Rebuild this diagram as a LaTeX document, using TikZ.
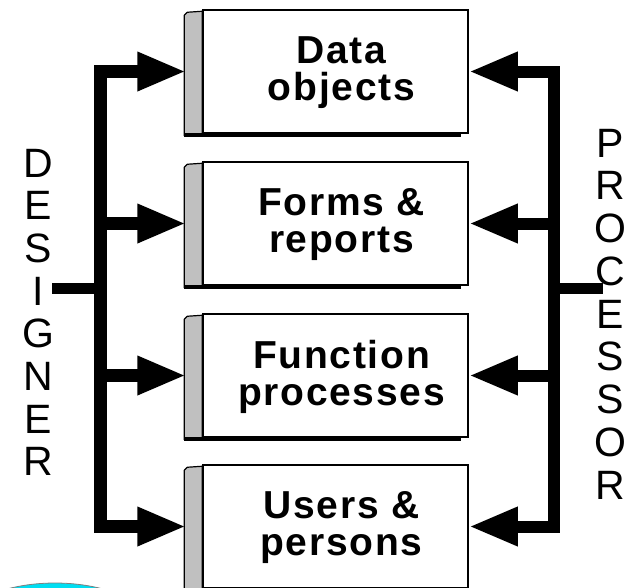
\documentclass[tikz,border=0pt]{standalone}
\usepackage{fontspec}
\setmainfont{Liberation Sans}
\newfontfamily\boxfont[LetterSpace=4.5]{Liberation Sans}
\usetikzlibrary{arrows.meta}
\definecolor{bubble}{RGB}{0,222,242}
\definecolor{stripgray}{RGB}{192,192,192}
\begin{document}
\begin{tikzpicture}[x=1pt,y=-1pt,
  box/.style={draw, line width=1.5pt, fill=white, minimum width=265pt,
    minimum height=123pt, inner sep=0pt},
  boxtext/.style={inner sep=0pt, align=center,
    font=\boxfont\fontsize{39}{37}\selectfont\bfseries},
  strip/.style={draw, line width=1.2pt, fill=stripgray, line join=round},
  shade/.style={line width=4pt},
  bus/.style={line width=13pt, line join=miter},
  head/.tip={Triangle[length=49pt,width=36pt]},
  letter/.style={anchor=base, inner sep=0pt, font=\fontsize{41}{41}\selectfont},
]
\useasboundingbox (0,0) rectangle (627,587);

% cyan bubble peeking in at the lower left
\filldraw[fill=bubble, draw=gray, line width=0.8pt] (55,643) ellipse [x radius=110pt, y radius=60pt];

% the four boxes with their grey side strip and bottom shadow
\foreach \i/\cy/\txt in {1/71.5/{Data\\objects},
                         2/223.5/{Forms \&\\reports},
                         3/375.5/{Function\\processes},
                         4/526.5/{Users \&\\persons}}{
  \node[box] (b\i) at (335.5,\cy) {};
  \node[boxtext] (t\i) at ([xshift=6pt,yshift=-1pt]b\i.center) {\txt};
  \draw[strip] ([shift={(0,2)}]b\i.north west) -- ([shift={(-15,3)}]b\i.north west)
     -- ([shift={(-18,6)}]b\i.north west) -- ([shift={(-18,2)}]b\i.south west)
     -- ([shift={(0,2)}]b\i.south west) -- cycle;
  \draw[shade] ([shift={(-18,1)}]b\i.south west) -- ([shift={(-8,1)}]b\i.south east);
  \coordinate (s\i) at ([shift={(-16,0)}]b\i.west);
}

% designer bus on the left
\coordinate (dbar) at (100.5,288);
\coordinate (dstub) at (52,288);
\draw[bus, head-head] (s1) -- (s1 -| dbar) -- (s4 -| dbar) -- (s4);
\draw[bus, -head] (s2 -| dbar) -- (s2);
\draw[bus, -head] (s3 -| dbar) -- (s3);
\draw[line width=11pt] (dbar) -- (dstub);

% processor bus on the right
\coordinate (pbar) at (554,288);
\coordinate (pstub) at (603,288);
\draw[bus, line width=12pt, head-head] (b1.east) -- (b1.east -| pbar) -- (b4.east -| pbar) -- (b4.east);
\draw[bus, line width=12pt, -head] (b2.east -| pbar) -- (b2.east);
\draw[bus, line width=12pt, -head] (b3.east -| pbar) -- (b3.east);
\draw[line width=11pt] (pbar) -- (pstub);

% vertical labels
\foreach \c [count=\k from 0] in {D,E,S,I,G,N,E,R}
  \node[letter] (d\k) at (38,177+42.7*\k) {\c};
\foreach \c [count=\k from 0] in {P,R,O,C,E,S,S,O,R}
  \node[letter] (p\k) at (610,157+42.75*\k) {\c};
\end{tikzpicture}
\end{document}
